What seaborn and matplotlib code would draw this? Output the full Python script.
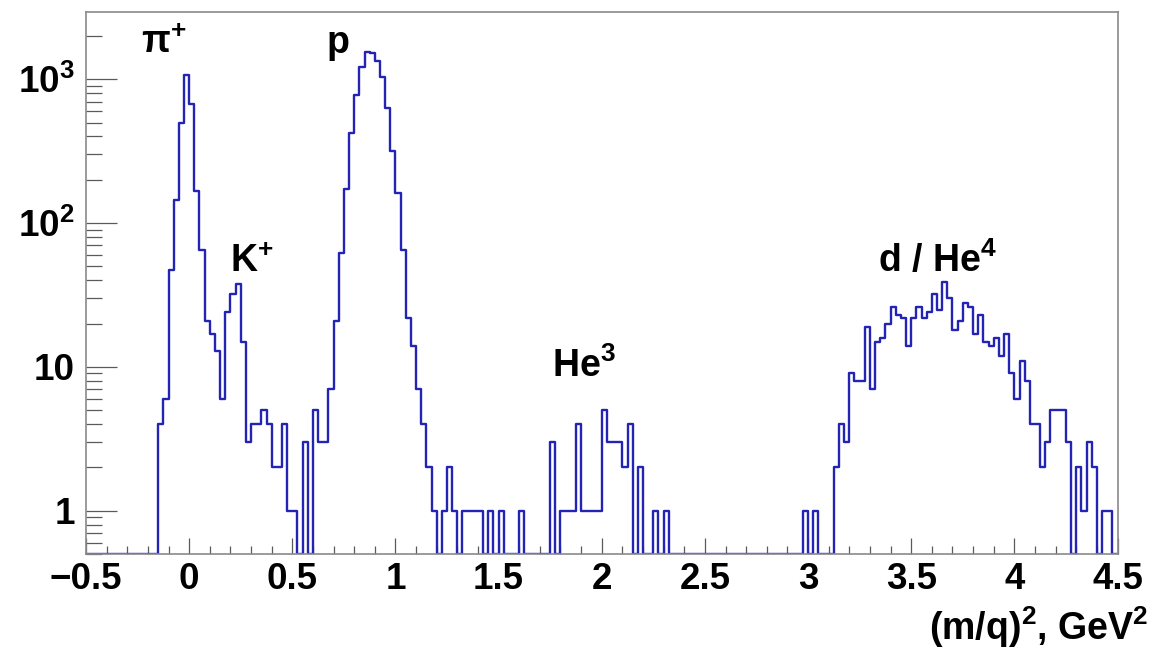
import numpy as np
import pandas as pd
import matplotlib
matplotlib.use("Agg")
import matplotlib.pyplot as plt
import matplotlib.ticker as mticker
import seaborn as sns

# ---------------- data ----------------
X_MIN, X_MAX, N_BINS = -0.5, 4.5, 200
Y_MIN, Y_MAX = 0.5, 2950

counts = [
    0, 0, 0, 0, 0, 0, 0, 0, 0, 0, 0, 0, 0, 0,            # -0.5 .. -0.175
    4, 6, 47, 144, 498, 1078, 671, 166, 65, 21,          # -0.15 .. 0.075
    17, 13, 6, 24, 32, 38, 15, 3, 4, 4,                  # 0.1 .. 0.325
    5, 4, 2, 2, 4, 1, 1, 0, 3, 0,                        # 0.35 .. 0.575
    5, 3, 3, 7, 21, 62, 173, 420, 774, 1222,             # 0.6 .. 0.825
    1553, 1535, 1331, 1042, 634, 316, 163, 65, 22, 14,   # 0.85 .. 1.075
    7, 4, 2, 1, 0, 1, 2, 1, 0, 1,                        # 1.1 .. 1.325
    1, 1, 1, 0, 1, 0, 1, 0, 0, 0,                        # 1.35 .. 1.575
    1, 0, 0, 0, 0, 0, 3, 0, 1, 1,                        # 1.6 .. 1.825
    1, 4, 1, 1, 1, 1, 5, 3, 3, 3,                        # 1.85 .. 2.075
    2, 4, 0, 2, 0, 0, 1, 0, 1,                           # 2.1 .. 2.3
    0, 0, 0, 0, 0, 0, 0, 0, 0, 0, 0, 0, 0,               # 2.325 .. 2.625
    0, 0, 0, 0, 0, 0, 0, 0, 0, 0, 0, 0, 0,               # 2.65 .. 2.95
    1, 0, 1, 0, 0, 0, 2, 4, 3, 9,                        # 2.975 .. 3.2
    8, 8, 19, 7, 15, 16, 20, 26, 23, 22,                 # 3.225 .. 3.45
    14, 22, 26, 22, 24, 32, 25, 39, 30, 18,              # 3.475 .. 3.7
    21, 28, 26, 17, 23, 15, 14, 16, 12, 17,              # 3.725 .. 3.95
    9, 6, 11, 8, 4, 4, 2, 3, 5, 5,                       # 3.975 .. 4.2
    5, 3, 0, 2, 1, 3, 2, 0, 1, 1, 0,                     # 4.225 .. 4.475
]

x_ticks = [-0.5, 0, 0.5, 1, 1.5, 2, 2.5, 3, 3.5, 4, 4.5]
y_ticks = [1, 10, 100, 1000]
y_tick_labels = ["1", "10", "$10^{2}$", "$10^{3}$"]

peak_labels = ["π$^{+}$", "p", "K$^{+}$", "He$^{3}$", "d / He$^{4}$"]
peak_label_x = [-0.233, 0.668, 0.198, 1.759, 3.339]
peak_label_y = [1524, 1524, 45.8, 8.53, 45.8]

x_title = "(m/q)$^{2}$, GeV$^{2}$"

# ---------------- style ----------------
sns.set_style("white")
plt.rcParams["font.family"] = ["Liberation Sans", "DejaVu Sans"]
plt.rcParams["font.weight"] = "bold"
plt.rcParams["mathtext.default"] = "regular"
plt.rcParams["axes.unicode_minus"] = True
plt.rcParams["text.color"] = "black"

LINE_COLOR = "#2323b4"
FRAME_COLOR = "#8a8a8a"
TICK_COLOR = "#5a5a5a"

fig = plt.figure(figsize=(11.52, 6.49), dpi=100)
ax = fig.add_axes([86 / 1152, 1 - 554 / 649, (1117.5 - 86) / 1152, (554 - 11.7) / 649])

edges = [float(e) for e in np.linspace(X_MIN, X_MAX, N_BINS + 1)]
centers = [0.5 * (edges[i] + edges[i + 1]) for i in range(N_BINS)]
counts_arr = np.asarray(counts, dtype=float)
# ROOT draws empty bins at the bottom of the log axis
df = pd.DataFrame({"center": centers, "count": np.maximum(counts_arr, Y_MIN)})

ax.set_yscale("log")
sns.histplot(data=df, x="center", weights="count", bins=edges, element="step",
             fill=False, color=LINE_COLOR, linewidth=1.7, ax=ax)

ax.set_xlim(X_MIN, X_MAX)
ax.set_ylim(Y_MIN, Y_MAX)
ax.set_xlabel("")
ax.set_ylabel("")

for s in ax.spines.values():
    s.set_color(FRAME_COLOR)
    s.set_linewidth(1.2)

ax.xaxis.set_major_locator(mticker.FixedLocator(x_ticks))
ax.xaxis.set_minor_locator(mticker.MultipleLocator(0.1))
ax.xaxis.set_major_formatter(mticker.FuncFormatter(lambda v, p: f"{v:g}".replace("-", "\u2212")))
ax.yaxis.set_major_locator(mticker.FixedLocator(y_ticks))
ax.yaxis.set_major_formatter(mticker.FixedFormatter(y_tick_labels))
ax.yaxis.set_minor_locator(mticker.LogLocator(base=10, subs=np.arange(2, 10)))
ax.yaxis.set_minor_formatter(mticker.NullFormatter())

ax.tick_params(axis="x", which="major", direction="in", length=11.5, width=0.9,
               color=TICK_COLOR, labelcolor="black", labelsize=26.5, pad=6,
               bottom=True, top=False)
ax.tick_params(axis="x", which="minor", direction="in", length=5.8, width=0.9,
               color=TICK_COLOR, bottom=True, top=False)
ax.tick_params(axis="y", which="major", direction="in", length=22, width=0.9,
               color=TICK_COLOR, labelcolor="black", labelsize=26.5, pad=8,
               left=True, right=False)
ax.tick_params(axis="y", which="minor", direction="in", length=11.5, width=0.9,
               color=TICK_COLOR, left=True, right=False)
for lab in ax.get_xticklabels() + ax.get_yticklabels():
    lab.set_fontweight("bold")

for txt, xv, yv in zip(peak_labels, peak_label_x, peak_label_y):
    ax.text(xv, yv, txt, fontsize=27, fontweight="bold", ha="left", va="baseline",
            color="black")

fig.text(1148 / 1152, 1 - 640 / 649, x_title, fontsize=27, fontweight="bold",
         ha="right", va="baseline", color="black")

fig.savefig("out.png", dpi=100, facecolor="white")
